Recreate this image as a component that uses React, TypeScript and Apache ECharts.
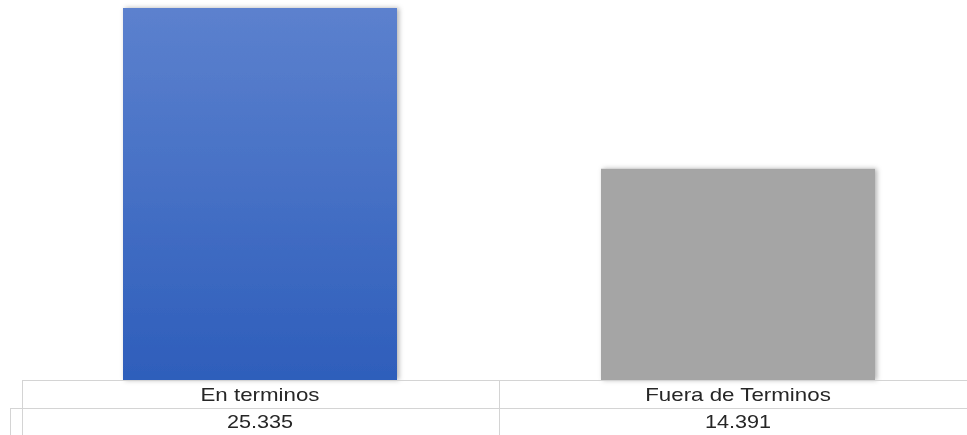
import React, { useEffect, useRef } from "react";
import * as echarts from "echarts";

const categories = ["En terminos", "Fuera de Terminos"];
const values = [25335, 14391];
const barColors = [
  { top: "#5C81CE", bottom: "#2E5EBB" },
  { top: "#A5A5A5", bottom: "#A5A5A5" },
];

const fmt = (v: number) => String(v).replace(/\B(?=(\d{3})+(?!\d))/g, ".");

export default function App() {
  const ref = useRef<HTMLDivElement>(null);
  useEffect(() => {
    if (!ref.current) return;
    const chart = echarts.init(ref.current, undefined, { renderer: "svg" });
    const lineStyle = { stroke: "#d4d4d4", lineWidth: 1 };
    chart.setOption({
      animation: false,
      grid: { left: 21, top: 8, width: 956, height: 372, containLabel: false, outerBoundsMode: "none" },
      xAxis: {
        type: "category",
        data: categories,
        axisTick: { show: false },
        axisLine: { show: false },
        axisLabel: { show: false },
      },
      yAxis: {
        type: "value",
        min: 0,
        max: "dataMax",
        show: false,
        splitLine: { show: false },
      },
      series: [
        {
          type: "bar",
          barWidth: 274,
          data: values.map((v, i) => ({
            value: v,
            itemStyle: {
              color: new echarts.graphic.LinearGradient(0, 0, 0, 1, [
                { offset: 0, color: barColors[i].top },
                { offset: 1, color: barColors[i].bottom },
              ]),
              shadowBlur: 5,
              shadowColor: "rgba(0,0,0,0.3)",
              shadowOffsetX: 2,
              shadowOffsetY: 0,
            },
          })),
        },
      ],
    });
    const textStyle = (t: string) => ({
      text: t,
      fontFamily: "Liberation Sans, Arial",
      fontSize: 18,
      fill: "#262626",
      align: "center",
      verticalAlign: "middle",
    });
    const texts: any[] = [];
    categories.forEach((c, i) => {
      const x = chart.convertToPixel({ xAxisIndex: 0 }, c) as number;
      texts.push({ type: "text", x, y: 395, scaleX: 1.24, style: textStyle(c), z: 10 });
      texts.push({ type: "text", x, y: 422, scaleX: 1.2, style: textStyle(fmt(values[i])), z: 10 });
    });
    chart.setOption({
      graphic: [
        { type: "line", shape: { x1: 22, y1: 380.5, x2: 967, y2: 380.5 }, style: lineStyle, z: 10 },
        { type: "line", shape: { x1: 10, y1: 408.5, x2: 967, y2: 408.5 }, style: lineStyle, z: 10 },
        { type: "line", shape: { x1: 22.5, y1: 380, x2: 22.5, y2: 408 }, style: lineStyle, z: 10 },
        { type: "line", shape: { x1: 10.5, y1: 408, x2: 10.5, y2: 435 }, style: lineStyle, z: 10 },
        { type: "line", shape: { x1: 22.5, y1: 408, x2: 22.5, y2: 435 }, style: lineStyle, z: 10 },
        { type: "line", shape: { x1: 499.5, y1: 380, x2: 499.5, y2: 435 }, style: lineStyle, z: 10 },
        ...texts,
      ],
    });
    return () => chart.dispose();
  }, []);
  return <div ref={ref} style={{ position: "fixed", left: 0, top: 0, width: 967, height: 435 }} />;
}
